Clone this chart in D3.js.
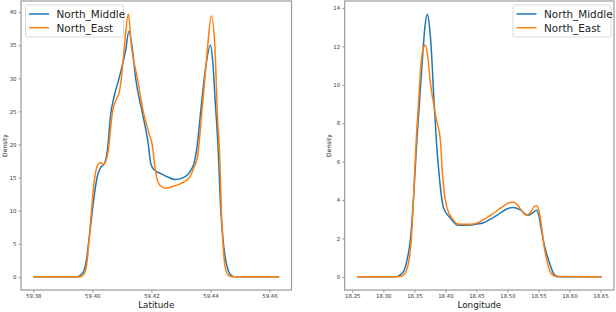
<!DOCTYPE html>
<html>
<head>
<meta charset="utf-8">
<script src="https://cdn.jsdelivr.net/npm/d3@7"></script>
<style>
  body { margin: 0; background: #fff; }
  svg { display: block; font-family: "DejaVu Sans", sans-serif; }
</style>
</head>
<body>
<svg id="chart" width="616" height="312"></svg>
<script>
// series names + colours
const seriesNames = ["North_Middle", "North_East"];
const seriesColors = ["#1f77b4", "#ff7f0e"];

// Latitude density, [latitude, density]
const latMiddle = [
  [59.3800, 0], [59.3945, 0], [59.3955, 0.1], [59.3963, 0.4], [59.3972, 1.0], [59.3980, 2.6],
  [59.3987, 5.0], [59.4000, 10.0], [59.4008, 12.8], [59.4017, 15.2], [59.4028, 16.5],
  [59.4042, 17.2], [59.4051, 19.1], [59.4062, 24.5], [59.4075, 27.5], [59.4090, 29.9],
  [59.4113, 34.3], [59.4124, 37.1], [59.4136, 34.3], [59.4147, 29.9], [59.4169, 24.9],
  [59.4190, 19.9], [59.4198, 17.1], [59.4211, 16.1], [59.4232, 15.6], [59.4255, 15.1],
  [59.4282, 14.7], [59.4305, 14.95], [59.4322, 15.4], [59.4335, 16.2], [59.4344, 17.1],
  [59.4353, 19.1], [59.4371, 26.7], [59.4384, 31.7], [59.4400, 35.0], [59.4408, 32.5],
  [59.4416, 26.7], [59.4426, 19.5], [59.4434, 11.0], [59.4443, 5.5], [59.4452, 2.5],
  [59.4460, 1.0], [59.4472, 0.2], [59.4486, 0], [59.4633, 0]
];
const latEast = [
  [59.3800, 0], [59.3960, 0], [59.3968, 0.2], [59.3977, 1.0], [59.3983, 2.6], [59.3988, 5.0],
  [59.3997, 10.0], [59.4008, 15.0], [59.4018, 16.9], [59.4026, 17.3], [59.4033, 17.1],
  [59.4039, 17.0], [59.4054, 19.1], [59.4068, 24.9], [59.4082, 26.9], [59.4090, 27.7],
  [59.4098, 29.9], [59.4109, 35.0], [59.4122, 39.7], [59.4132, 35.0], [59.4153, 29.9],
  [59.4173, 24.9], [59.4192, 21.7], [59.4203, 19.9], [59.4212, 16.6], [59.4221, 14.5],
  [59.4235, 13.6], [59.4249, 13.4], [59.4275, 13.7], [59.4299, 14.1], [59.4327, 14.9],
  [59.4344, 16.5], [59.4356, 18.1], [59.4371, 24.9], [59.4381, 29.9], [59.4391, 35.0],
  [59.4403, 39.4], [59.4415, 35.0], [59.4423, 25.0], [59.4432, 17.6], [59.4437, 10.0],
  [59.4442, 5.5], [59.4450, 1.5], [59.4460, 0.3], [59.4475, 0], [59.4633, 0]
];

// Longitude density, [longitude, density]
const lonMiddle = [
  [18.2575, 0], [18.3180, 0], [18.3250, 0.05], [18.3330, 0.3], [18.3390, 1.0], [18.3435, 1.9],
  [18.3477, 3.6], [18.3510, 5.4], [18.3540, 7.1], [18.3585, 9.2], [18.3640, 11.8],
  [18.3670, 13.0], [18.3710, 13.68], [18.3745, 13.0], [18.3774, 11.8], [18.3816, 9.2],
  [18.3855, 7.1], [18.3897, 5.4], [18.3970, 3.6], [18.4070, 3.1], [18.4200, 2.69],
  [18.4400, 2.7], [18.4500, 2.75], [18.4606, 2.8], [18.4750, 3.05], [18.4876, 3.3],
  [18.5000, 3.55], [18.5090, 3.61], [18.5200, 3.5], [18.5330, 3.21], [18.5410, 3.35],
  [18.5468, 3.47], [18.5510, 3.15], [18.5548, 2.43], [18.5602, 1.56], [18.5682, 0.7],
  [18.5740, 0.2], [18.5816, 0], [18.6520, 0]
];
const lonEast = [
  [18.2575, 0], [18.3240, 0], [18.3310, 0.05], [18.3370, 0.3], [18.3420, 1.0], [18.3450, 1.9],
  [18.3480, 3.6], [18.3505, 5.4], [18.3530, 7.1], [18.3570, 9.2], [18.3605, 11.0],
  [18.3640, 11.85], [18.3677, 12.07], [18.3715, 11.5], [18.3755, 10.2], [18.3800, 9.2],
  [18.3855, 8.2], [18.3920, 7.1], [18.3952, 5.4], [18.3985, 4.3], [18.4026, 3.6],
  [18.4123, 3.0], [18.4200, 2.75], [18.4400, 2.74], [18.4500, 2.8], [18.4600, 2.95],
  [18.4750, 3.25], [18.4900, 3.6], [18.5020, 3.85], [18.5090, 3.9], [18.5160, 3.75],
  [18.5240, 3.4], [18.5310, 3.2], [18.5370, 3.35], [18.5430, 3.65], [18.5470, 3.7],
  [18.5510, 3.4], [18.5558, 2.43], [18.5590, 1.6], [18.5640, 0.8], [18.5700, 0.2],
  [18.5766, 0.03], [18.6520, 0]
];

// tick labels
const latTicks = [59.38, 59.40, 59.42, 59.44, 59.46];
const latDensTicks = [0, 5, 10, 15, 20, 25, 30, 35, 40];
const lonTicks = [18.25, 18.30, 18.35, 18.40, 18.45, 18.50, 18.55, 18.60, 18.65];
const lonDensTicks = [0, 2, 4, 6, 8, 10, 12, 14];

const svg = d3.select("#chart");

// matplotlib-like 5% margins
function padded(ext) {
  const p = (ext[1] - ext[0]) * 0.05;
  return [ext[0] - p, ext[1] + p];
}

function drawPanel(opts) {
  const { left, right, top, bottom, series, xTicks, yTicks, xFmt, xLabel, legendX } = opts;
  const all = series.flat();
  const x = d3.scaleLinear().domain(padded(d3.extent(all, d => d[0]))).range([left, right]);
  const y = d3.scaleLinear().domain(padded([0, d3.max(all, d => d[1])])).range([bottom, top]);

  const g = svg.append("g");

  // the curves
  const line = d3.line()
    .x(d => x(d[0]))
    .y(d => y(d[1]))
    .curve(d3.curveMonotoneX);

  series.forEach((s, i) => {
    g.append("path")
      .datum(s)
      .attr("fill", "none")
      .attr("stroke", seriesColors[i])
      .attr("stroke-width", 1.5)
      .attr("d", line);
  });

  // axes
  const xAxis = g.append("g")
    .attr("transform", `translate(0,${bottom})`)
    .call(d3.axisBottom(x).tickValues(xTicks).tickFormat(xFmt).tickSize(2.5).tickPadding(2));
  const yAxis = g.append("g")
    .attr("transform", `translate(${left},0)`)
    .call(d3.axisLeft(y).tickValues(yTicks).tickFormat(d3.format("d")).tickSize(2.5).tickPadding(2));

  [xAxis, yAxis].forEach(a => {
    a.select(".domain").remove();
    a.selectAll("line").attr("stroke", "#555").attr("stroke-width", 0.6);
    a.selectAll("text").attr("fill", "#333").style("font-size", "5.4px").style("font-family", "DejaVu Sans");
  });

  // frame
  g.append("rect")
    .attr("x", left).attr("y", top)
    .attr("width", right - left).attr("height", bottom - top)
    .attr("fill", "none")
    .attr("stroke", "#9a9a9a")
    .attr("stroke-width", 1.2);

  g.append("text")
    .attr("x", (left + right) / 2)
    .attr("y", bottom + 17.5)
    .attr("text-anchor", "middle")
    .attr("fill", "#222")
    .style("font-size", "8.8px")
    .text(xLabel);

  g.append("text")
    .attr("transform", `translate(${left - 14},${(top + bottom) / 2}) rotate(-90)`)
    .attr("text-anchor", "middle")
    .attr("fill", "#222")
    .style("font-size", "6px")
    .text("Density");

  // legend
  const lg = g.append("g").attr("transform", `translate(${legendX},5)`);
  lg.append("rect")
    .attr("width", 98).attr("height", 32)
    .attr("rx", 2)
    .attr("fill", "#fff").attr("fill-opacity", 0.8)
    .attr("stroke", "#d0d0d0").attr("stroke-width", 0.8);
  seriesNames.forEach((name, i) => {
    const yy = 9 + i * 13.7;
    lg.append("line")
      .attr("x1", 3.5).attr("x2", 23.5)
      .attr("y1", yy).attr("y2", yy)
      .attr("stroke", seriesColors[i]).attr("stroke-width", 1.5);
    lg.append("text")
      .attr("x", 31).attr("y", yy + 3.8)
      .attr("fill", "#222")
      .style("font-size", "10.4px")
      .text(name);
  });
}

drawPanel({
  left: 21, right: 291.5, top: 1, bottom: 290,
  series: [latMiddle, latEast],
  xTicks: latTicks, yTicks: latDensTicks,
  xFmt: d3.format(".2f"), xLabel: "Latitude",
  legendX: 25.5
});

drawPanel({
  left: 344.7, right: 614, top: 1, bottom: 290,
  series: [lonMiddle, lonEast],
  xTicks: lonTicks, yTicks: lonDensTicks,
  xFmt: d3.format(".2f"), xLabel: "Longitude",
  legendX: 513
});
</script>
</body>
</html>
